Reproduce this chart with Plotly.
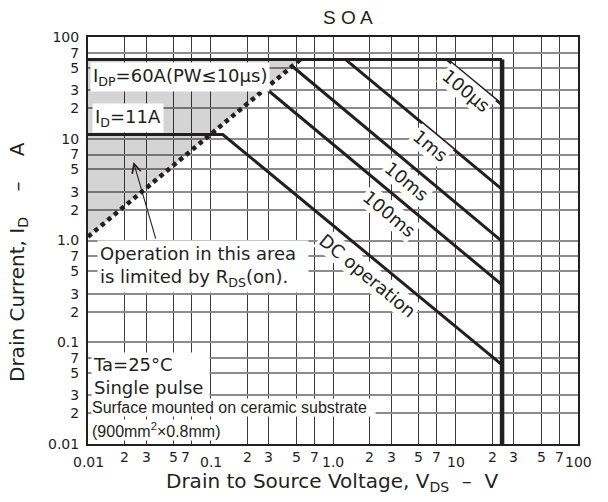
import math
import numpy as np
import plotly.graph_objects as go

# ---------------- data (V in volts, I in amperes) ----------------
grid_vals = [0.01, 0.02, 0.03, 0.05, 0.07, 0.1, 0.2, 0.3, 0.5, 0.7,
             1, 2, 3, 5, 7, 10, 20, 30, 50, 70, 100]
x_tick_labels = ["0.01", "2", "3", "5", "7", "0.1", "2", "3", "5", "7",
                 "1.0", "2", "3", "5", "7", "10", "2", "3", "5", "7", "100"]
y_tick_labels = ["0.01", "2", "3", "5", "7", "0.1", "2", "3", "5", "7",
                 "1.0", "2", "3", "5", "7", "10", "2", "3", "5", "7", "100"]

# R_DS(on) limit line (dotted) and the area it limits (grey)
rds_v = [0.01, 0.54]
rds_i = [1.09, 60.0]
area_v = [0.01, 0.54, 0.01]
area_i = [60.0, 60.0, 1.09]

# I_DP pulse limit and V_DSS limit
idp_v = [0.01, 24.0]
idp_i = [60.0, 60.0]
vdss_v = [24.0, 24.0]
vdss_i = [60.0, 0.01]

# I_D = 11 A and DC operation
dc_v = [0.01, 0.126, 24.0]
dc_i = [11.0, 11.0, 0.06]

# pulse-width limits
pw100us_v = [8.55, 24.0]
pw100us_i = [60.0, 21.5]
pw1ms_v = [1.27, 24.0]
pw1ms_i = [60.0, 3.18]
pw10ms_v = [0.47, 24.0]
pw10ms_i = [51.0, 0.98]
pw100ms_v = [0.285, 24.0]
pw100ms_i = [31.0, 0.366]

# curve labels (anchor read in data units)
curve_labels = ["100μs", "1ms", "10ms", "100ms", "DC operation"]
curve_label_v = [12.2, 6.19, 4.02, 2.87, 1.90]
curve_label_i = [30.1, 8.49, 3.84, 1.86, 0.448]

# arrow of the "Operation in this area" note (head, tail)
arrow_head = (0.0235, 5.9)
arrow_tail = (0.036, 1.01)

# ---------------- figure ----------------
W, H = 608, 502
ML, MR, MT, MB = 88, 30, 37, 58
PW, PH = W - ML - MR, H - MT - MB
INK = "#231f20"
FONT = "DejaVu Sans"
NARROW = "Liberation Sans"

fig = go.Figure()

fig.add_trace(go.Scatter(x=area_v, y=area_i, mode="lines", fill="toself",
                         fillcolor="rgba(0,0,0,0.17)", line=dict(width=0),
                         hoverinfo="skip", showlegend=False))

for xv, yv, w in [(idp_v, idp_i, 3), (dc_v, dc_i, 3),
                  (pw100us_v, pw100us_i, 3), (pw1ms_v, pw1ms_i, 3),
                  (pw10ms_v, pw10ms_i, 3), (pw100ms_v, pw100ms_i, 3),
                  (vdss_v, vdss_i, 4.5)]:
    fig.add_trace(go.Scatter(x=xv, y=yv, mode="lines",
                             line=dict(color=INK, width=w),
                             hoverinfo="skip", showlegend=False))

fig.add_trace(go.Scatter(x=rds_v, y=rds_i, mode="lines",
                         line=dict(color=INK, width=4.5, dash="4.5px,4px"),
                         hoverinfo="skip", showlegend=False))

ann = []
# rotated curve labels
angle = math.degrees(math.atan((PH / 4) / (PW / 4)))
for t, v, i in zip(curve_labels, curve_label_v, curve_label_i):
    ann.append(dict(x=math.log10(v), y=math.log10(i), xref="x", yref="y",
                    text=t, textangle=angle, showarrow=False,
                    font=dict(family=FONT, size=18, color=INK),
                    bgcolor="white", borderpad=1))

# x tick labels
for k, (v, t) in enumerate(zip(grid_vals, x_tick_labels)):
    decade = (k % 5 == 0)
    xs = -6 if k == 4 else 0
    ann.append(dict(x=math.log10(v), y=0, xref="x", yref="paper",
                    text=t, showarrow=False, xanchor="center", yanchor="middle",
                    yshift=-18 if decade else -13, xshift=xs,
                    font=dict(family=FONT, size=14, color=INK)))

# arrow
ann.append(dict(x=math.log10(arrow_head[0]), y=math.log10(arrow_head[1]),
                ax=math.log10(arrow_tail[0]), ay=math.log10(arrow_tail[1]),
                xref="x", yref="y", axref="x", ayref="y", text="",
                showarrow=True, arrowhead=5, arrowsize=1.6, arrowwidth=1.1,
                arrowcolor=INK, standoff=0, startstandoff=0))

# text boxes
def px(xp):
    return (xp - ML) / PW

def py(yp):
    return (H - MB - yp) / PH

ann += [
    dict(x=px(90), y=py(77), xref="paper", yref="paper", xanchor="left", yanchor="middle",
         text="I<sub>DP</sub>=60A(PW≤10μs)", showarrow=False, bgcolor="white", borderpad=2,
         font=dict(family=FONT, size=18, color=INK)),
    dict(x=px(92), y=py(118), xref="paper", yref="paper", xanchor="left", yanchor="middle",
         text="I<sub>D</sub>=11A", showarrow=False, bgcolor="white", borderpad=2,
         font=dict(family=FONT, size=18, color=INK)),
    dict(x=px(97), y=py(266), xref="paper", yref="paper", xanchor="left", yanchor="middle",
         text="Operation in this area<br>is limited by R<sub>DS</sub>(on).", align="left",
         showarrow=False, bgcolor="white", borderpad=2, width=206,
         font=dict(family=FONT, size=18, color=INK)),
    dict(x=px(91), y=py(376), xref="paper", yref="paper", xanchor="left", yanchor="middle",
         text="Ta=25°C<br>Single pulse", align="left", width=115,
         showarrow=False, bgcolor="white", borderpad=1,
         font=dict(family=FONT, size=18, color=INK)),
    dict(x=px(91), y=py(407), xref="paper", yref="paper", xanchor="left", yanchor="middle",
         text="Surface mounted on ceramic substrate", align="left", width=283,
         showarrow=False, bgcolor="white", borderpad=0,
         font=dict(family=NARROW, size=16, color=INK)),
    dict(x=px(91), y=py(430), xref="paper", yref="paper", xanchor="left", yanchor="middle",
         text="(900mm<sup>2</sup>×0.8mm)", align="left",
         showarrow=False, bgcolor="white", borderpad=0,
         font=dict(family=NARROW, size=16, color=INK)),
    # titles
    dict(x=px(348), y=1, xref="paper", yref="paper", yshift=20, xanchor="center",
         yanchor="middle", text="S O A", showarrow=False,
         font=dict(family=NARROW, size=19, color=INK)),
    dict(x=px(332), y=0, xref="paper", yref="paper", yshift=-38, xanchor="center",
         yanchor="middle", text="Drain to Source Voltage, V<sub>DS</sub>  –  V",
         showarrow=False, font=dict(family=FONT, size=20, color=INK)),
    dict(x=px(18), y=py(262), xref="paper", yref="paper", xanchor="center",
         yanchor="middle", textangle=-90, text="Drain Current, I<sub>D</sub>    –    A",
         showarrow=False, font=dict(family=FONT, size=20, color=INK)),
]

fig.update_layout(
    width=W, height=H, margin=dict(l=ML, r=MR, t=MT, b=MB, autoexpand=False),
    paper_bgcolor="white", plot_bgcolor="white", showlegend=False,
    annotations=ann,
    xaxis=dict(type="log", range=[-2, 2], tickvals=grid_vals, showticklabels=False,
               ticks="", showgrid=True, gridcolor="#3a3a3a", gridwidth=1.2,
               automargin=False,
               showline=True, linecolor=INK, linewidth=2, mirror=True, zeroline=False),
    yaxis=dict(type="log", range=[-2, 2], tickvals=grid_vals, ticktext=y_tick_labels,
               ticks="", showgrid=True, gridcolor="#8c8c8c", gridwidth=1.8,
               ticklabelstandoff=4, automargin=False,
               tickfont=dict(family=FONT, size=14, color=INK),
               showline=True, linecolor=INK, linewidth=2, mirror=True, zeroline=False),
)

fig.write_html("out.html", config={"displayModeBar": False},
               post_script="document.body.style.margin='0px';"
                           "document.body.style.overflow='hidden';")
